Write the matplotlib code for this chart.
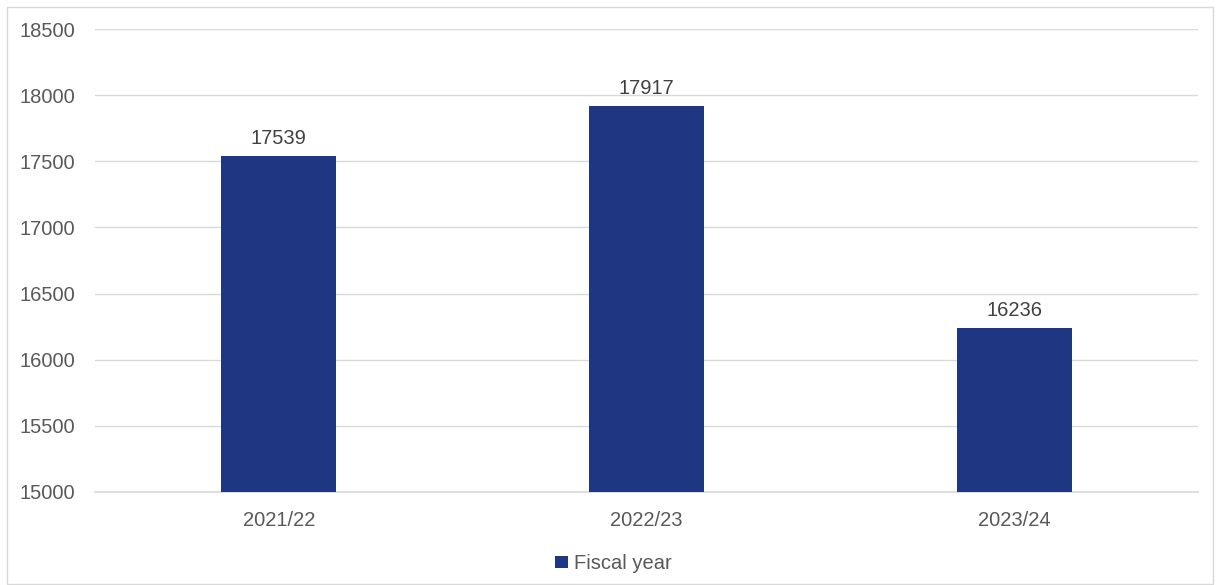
import matplotlib.pyplot as plt
from matplotlib.patches import Rectangle

plt.rcParams['font.family'] = ['Liberation Sans', 'DejaVu Sans']

years = ['2021/22', '2022/23', '2023/24']
counts = [17539, 17917, 16236]
yticks = [15000, 15500, 16000, 16500, 17000, 17500, 18000, 18500]

bar_color = '#1F3682'
text_color = '#595959'

fig = plt.figure(figsize=(12.16, 5.85), dpi=100)
ax = fig.add_axes([0.0781, 0.159, 0.9071, 0.7914])

x = range(len(years))
bars = ax.bar(x, counts, width=0.3125, color=bar_color, label='Fiscal year', zorder=2)
for b, v in zip(bars, counts):
    ax.annotate(str(v), (b.get_x() + b.get_width() / 2, v), xytext=(0, 6),
                textcoords='offset points', ha='center', va='bottom',
                fontsize=14.5, color='#404040')

ax.set_xlim(-0.5, 2.5)
ax.set_ylim(15000, 18500)
ax.set_yticks(yticks)
ax.set_xticks(list(x))
ax.set_xticklabels(years)
ax.tick_params(axis='both', length=0, labelsize=14.5, labelcolor=text_color)
ax.tick_params(axis='y', pad=14)
ax.tick_params(axis='x', pad=14)
ax.grid(axis='y', color='#D9D9D9', linewidth=1, zorder=0)
ax.axhline(15000, color='#D9D9D9', linewidth=1.2, zorder=1, clip_on=False)
for s in ax.spines.values():
    s.set_visible(False)

ax.legend(loc='upper center', bbox_to_anchor=(0.47, -0.095), frameon=False,
          fontsize=14.5, labelcolor=text_color, handlelength=0.6, handleheight=0.6,
          handletextpad=0.3)

fig.patches.append(Rectangle((7 / 1216, 1 - 584 / 585), 1206 / 1216, 577 / 585,
                             transform=fig.transFigure, fill=False,
                             edgecolor='#D9D9D9', linewidth=1))

fig.savefig('out.png', dpi=100)
